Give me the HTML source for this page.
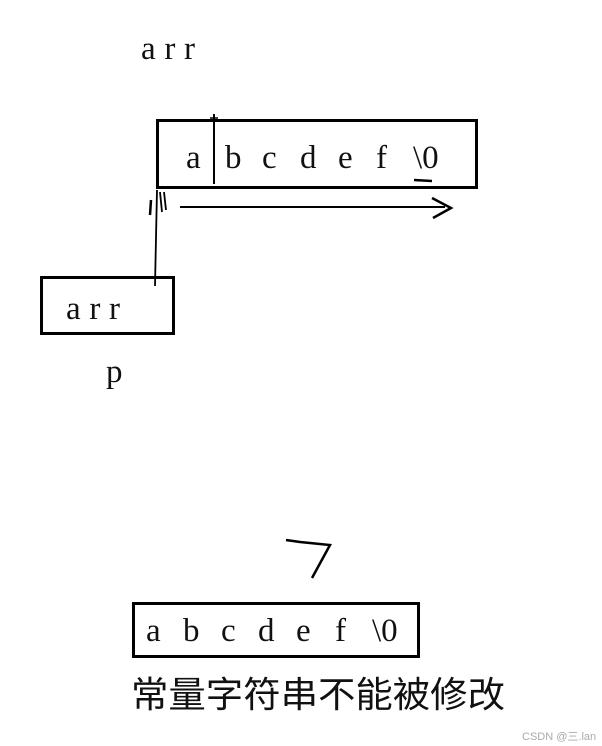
<!DOCTYPE html>
<html><head><meta charset="utf-8"><style>
html,body{margin:0;padding:0;background:#fff;width:602px;height:746px;overflow:hidden}
svg{display:block}
.t{font-family:"Liberation Serif",serif;font-size:33px;fill:#111}
</style></head><body>
<svg width="602" height="746" viewBox="0 0 602 746">
<text class="t" x="141" y="59" textLength="54" lengthAdjust="spacing">arr</text>
<rect x="157.5" y="120.5" width="319" height="67" fill="none" stroke="#000" stroke-width="3"/>
<line x1="214" y1="114" x2="214" y2="184" stroke="#000" stroke-width="2"/>
<line x1="210" y1="118" x2="218" y2="118" stroke="#000" stroke-width="1.5"/>
<g class="t">
<text x="186" y="168">a</text><text x="225" y="168">b</text><text x="262" y="168">c</text>
<text x="300" y="168">d</text><text x="338" y="168">e</text><text x="376" y="168">f</text>
<text x="413" y="168">\0</text>
</g>
<path d="M414 180 L432 181" stroke="#000" stroke-width="2.5"/>
<line x1="180" y1="207" x2="445" y2="207" stroke="#000" stroke-width="2"/>
<path d="M432 198 L451 208 L433 218" fill="none" stroke="#000" stroke-width="2.5"/>
<path d="M155 286 L157 190 M160 192 L162 212 M164 192 L166 210" fill="none" stroke="#000" stroke-width="1.8"/>
<path d="M151 200 L150 215" stroke="#000" stroke-width="2.5"/>
<rect x="41.5" y="277.5" width="132" height="56" fill="none" stroke="#000" stroke-width="3"/>
<text class="t" x="66" y="319" textLength="54" lengthAdjust="spacing">arr</text>
<text class="t" x="106" y="382">p</text>
<path d="M286 540 L300 542 L330 545 L324 556 L312 578" fill="none" stroke="#000" stroke-width="2.5"/>
<rect x="133.5" y="603.5" width="285" height="53" fill="none" stroke="#000" stroke-width="3"/>
<g class="t">
<text x="146" y="641">a</text><text x="183" y="641">b</text><text x="221" y="641">c</text>
<text x="258" y="641">d</text><text x="296" y="641">e</text><text x="335" y="641">f</text>
<text x="372" y="641">\0</text>
</g>
<text x="131" y="707" textLength="374" lengthAdjust="spacingAndGlyphs" style="font-family:'Noto Sans CJK SC',sans-serif;font-size:36px;fill:#111">常量字符串不能被修改</text>
<text x="522" y="740" style="font-family:'Liberation Sans','Noto Sans CJK SC',sans-serif;font-size:11px;fill:#aaa">CSDN @三.lan</text>
</svg>
</body></html>
